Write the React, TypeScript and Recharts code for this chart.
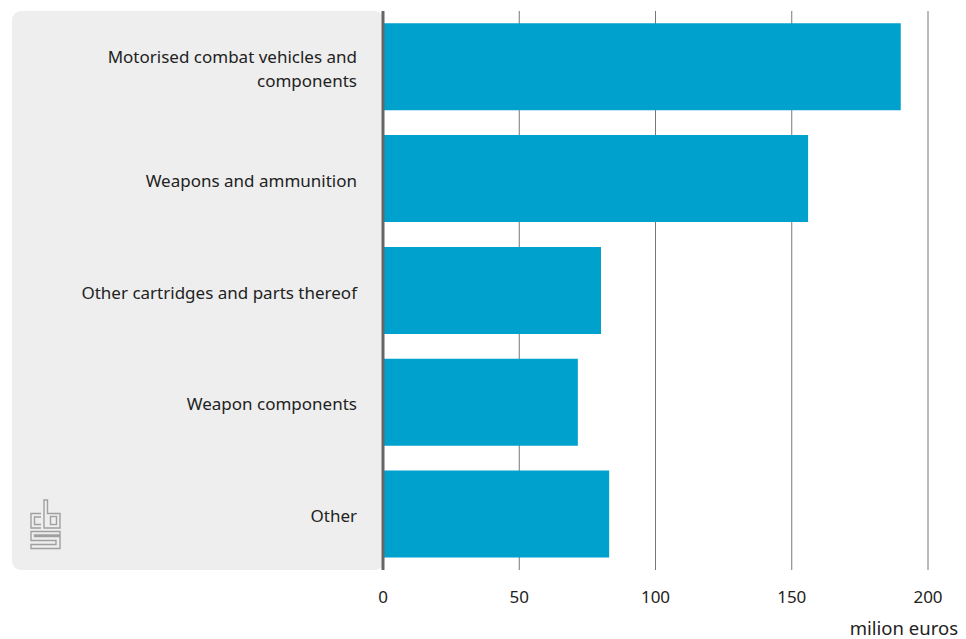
import React from 'react';
import { BarChart, Bar, XAxis, YAxis, CartesianGrid, Label } from 'recharts';

// Categories and values (million euros)
const categories = [
  'Motorised combat vehicles and components',
  'Weapons and ammunition',
  'Other cartridges and parts thereof',
  'Weapon components',
  'Other',
];
const values = [190, 156, 80, 71.5, 83];
const xTicks = [0, 50, 100, 150, 200];

const data = categories.map((name, i) => ({ name, value: values[i] }));

const FONT = '"Noto Sans", sans-serif';

// naive word wrap by character count
const wrap = (s: string, max: number) => {
  const lines: string[] = [];
  let cur = '';
  s.split(' ').forEach((w) => {
    const next = cur ? cur + ' ' + w : w;
    if (next.length > max && cur) {
      lines.push(cur);
      cur = w;
    } else {
      cur = next;
    }
  });
  if (cur) lines.push(cur);
  return lines;
};

const CategoryTick = (props: any) => {
  const { x, y, payload } = props;
  const lines = wrap(payload.value, 34);
  const lh = 24;
  const y0 = y + 8 - ((lines.length - 1) * lh) / 2;
  return (
    <text
      x={x - 18}
      y={y0}
      textAnchor="end"
      fontFamily={FONT}
      fontSize={17}
      fill="#222"
    >
      {lines.map((l, i) => (
        <tspan key={i} x={x - 18} y={y0 + i * lh}>
          {l}
        </tspan>
      ))}
    </text>
  );
};

// small cbs mark in the lower left of the grey panel
const CbsLogo = () => (
  <svg
    width={45}
    height={60}
    viewBox="0 0 45 60"
    style={{ position: 'absolute', left: 25, top: 495 }}
  >
    <g fill="none" stroke="#a0a0a0" strokeWidth={1.4}>
      <path d="M16 18.5 H6 V33 H16" />
      <path d="M16 22 H9.5 V29.5 H16" />
      <path d="M19 5 V33 H35 V18.5 H22.5 V5 Z" />
      <rect x={25.5} y={21.5} width={6} height={8} />
      <path d="M35 36.5 H6 V45.5 H31 V49.5 H6 V53.5 H35 V41.5 H9.5 V40 H35 Z" />
    </g>
  </svg>
);

const App: React.FC = () => {
  return (
    <div style={{ position: 'absolute', left: 0, top: 0, width: 966, height: 639 }}>
      <div
        style={{
          position: 'absolute',
          left: 12,
          top: 11,
          width: 372,
          height: 559,
          background: '#eeeeee',
          borderRadius: 9,
        }}
      />
      <CbsLogo />
      <BarChart
        width={966}
        height={639}
        data={data}
        layout="vertical"
        margin={{ top: 11, right: 38, left: 0, bottom: 0 }}
        barCategoryGap="11%"
        style={{ position: 'absolute', left: 0, top: 0 }}
      >
        <CartesianGrid horizontal={false} stroke="#777" strokeWidth={1} />
        <XAxis
          type="number"
          domain={[0, 200]}
          ticks={xTicks}
          height={69}
          axisLine={false}
          tickLine={false}
          tickSize={0}
          tickMargin={21}
          tick={{ fontFamily: FONT, fontSize: 17, fill: '#222' }}
        >
          <Label
            content={() => (
              <text x={958} y={635} textAnchor="end" fontFamily={FONT} fontSize={18.5} fill="#222">
                milion euros
              </text>
            )}
          />
        </XAxis>
        <YAxis
          type="category"
          dataKey="name"
          width={383}
          axisLine={{ stroke: '#666', strokeWidth: 3 }}
          tickLine={false}
          tick={<CategoryTick />}
          interval={0}
        />
        <Bar dataKey="value" fill="#00a1cd" isAnimationActive={false} />
      </BarChart>
    </div>
  );
};

export default App;
